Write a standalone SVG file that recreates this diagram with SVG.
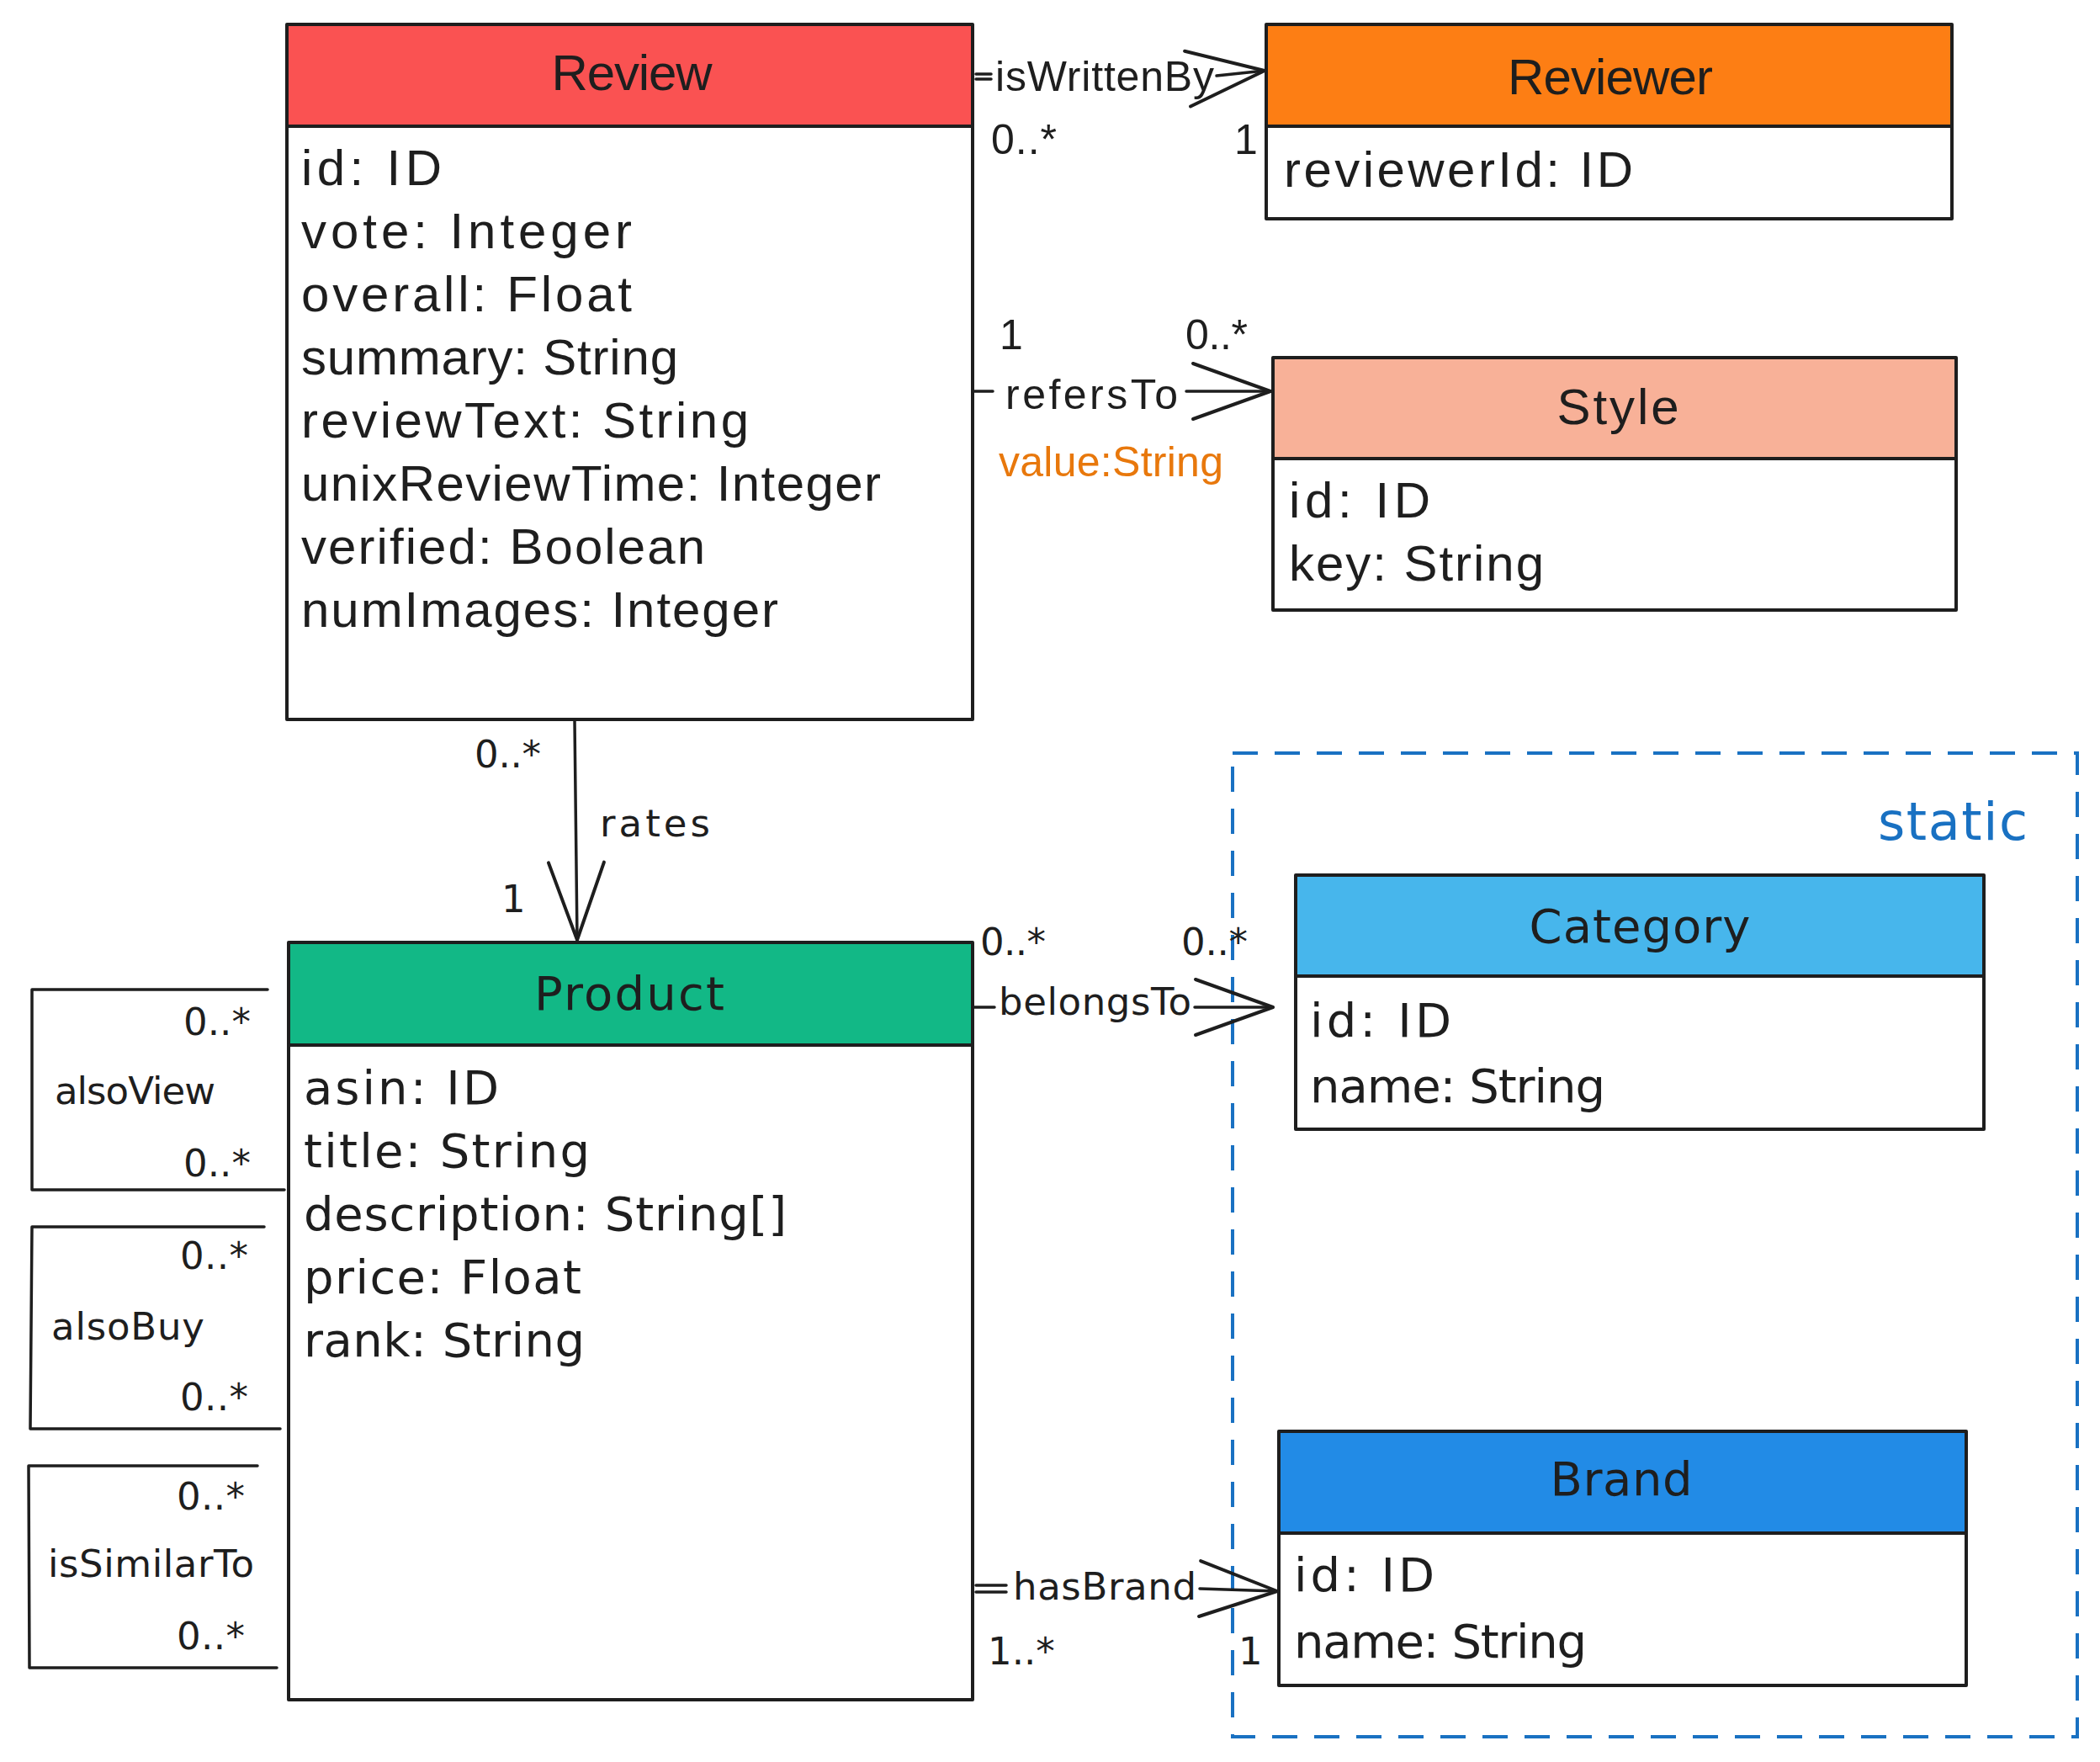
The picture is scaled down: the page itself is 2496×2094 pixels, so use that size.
<svg xmlns="http://www.w3.org/2000/svg" width="2496" height="2094" viewBox="0 0 2496 2094">
<style>
.hd{stroke:#1e1e1e;stroke-width:4;stroke-linejoin:round}
.bx{fill:#fff;stroke:#1e1e1e;stroke-width:4;stroke-linejoin:round}
.ln{fill:none;stroke:#1e1e1e;stroke-width:3.5;stroke-linecap:round;stroke-linejoin:round}
.n{font-family:"Liberation Sans",Arial,sans-serif;fill:#1e1e1e}
.w{font-family:"DejaVu Sans","Liberation Sans",sans-serif;fill:#1e1e1e}
.t60{font-size:60px}
.t56{font-size:56px}
.t50{font-size:50px}
.t45{font-size:45px}
.mid{text-anchor:middle}
</style>
<defs>
<marker id="open" markerUnits="userSpaceOnUse" markerWidth="120" markerHeight="90" viewBox="-105 -45 120 90" refX="0" refY="0" orient="auto" overflow="visible">
<path d="M -92,-33 L 0,0 L -92,33" fill="none" stroke="#1e1e1e" stroke-width="4" stroke-linecap="round" stroke-linejoin="round"/>
</marker>
</defs>
<rect width="2496" height="2094" fill="#fff"/>

<g id="static-frame">
<rect x="1465" y="895" width="1004" height="1169" fill="none" stroke="#1971c2" stroke-width="4" stroke-dasharray="30 20"/>
<text class="w" x="2232" y="998" font-size="62" style="fill:#1971c2" textLength="178">static</text>
</g>

<g id="connectors">
<!-- isWrittenBy -->
<path class="ln" d="M1160,88 L1178,88 M1160,94 L1178,94"/>
<path class="ln" d="M1446,90 L1503,84" marker-end="url(#open)"/>
<text class="n t50" x="1183" y="108" textLength="260">isWrittenBy</text>
<text class="n t50" x="1178" y="183" textLength="78">0..*</text>
<text class="n t50" x="1467" y="183">1</text>
<!-- refersTo -->
<path class="ln" d="M1158,465 L1180,465"/>
<path class="ln" d="M1410,465 L1510,465" marker-end="url(#open)"/>
<text class="n t50" x="1195" y="486" textLength="205">refersTo</text>
<text class="n t50" x="1188" y="415">1</text>
<text class="n t50" x="1409" y="415" textLength="74">0..*</text>
<text class="n t50" x="1187" y="566" textLength="267" style="fill:#e8780c">value:String</text>
<!-- rates -->
<path class="ln" d="M683,857 L686,1117" marker-end="url(#open)"/>
<text class="w t45" x="564" y="912" textLength="79">0..*</text>
<text class="w t45" x="713" y="994" textLength="131">rates</text>
<text class="w t45" x="596" y="1084">1</text>
<!-- belongsTo -->
<path class="ln" d="M1158,1197 L1182,1197"/>
<path class="ln" d="M1420,1197 L1513,1197" marker-end="url(#open)"/>
<text class="w t45" x="1187" y="1206" textLength="229">belongsTo</text>
<text class="w t45" x="1165" y="1135" textLength="78">0..*</text>
<text class="w t45" x="1404" y="1135" textLength="79">0..*</text>
<!-- hasBrand -->
<path class="ln" d="M1160,1884 L1196,1884 M1160,1892 L1196,1892"/>
<path class="ln" d="M1426,1888 L1518,1891" marker-end="url(#open)"/>
<text class="w t45" x="1204" y="1901" textLength="218">hasBrand</text>
<text class="w t45" x="1174" y="1978">1..*</text>
<text class="w t45" x="1472" y="1978">1</text>
<!-- alsoView self-loop -->
<path class="ln" d="M318,1176 L38,1176 L38,1414 L338,1414"/>
<text class="w t45" x="218" y="1230" textLength="80">0..*</text>
<text class="w t45" x="65" y="1312" textLength="191">alsoView</text>
<text class="w t45" x="218" y="1398" textLength="80">0..*</text>
<!-- alsoBuy self-loop -->
<path class="ln" d="M314,1458 L38,1458 L36,1698 L333,1698"/>
<text class="w t45" x="214" y="1508" textLength="81">0..*</text>
<text class="w t45" x="61" y="1592" textLength="182">alsoBuy</text>
<text class="w t45" x="214" y="1676" textLength="81">0..*</text>
<!-- isSimilarTo self-loop -->
<path class="ln" d="M306,1742 L34,1742 L35,1982 L329,1982"/>
<text class="w t45" x="210" y="1794" textLength="81">0..*</text>
<text class="w t45" x="57" y="1874" textLength="245">isSimilarTo</text>
<text class="w t45" x="210" y="1960" textLength="81">0..*</text>
</g>

<g id="review">
<rect class="hd" x="341" y="29" width="815" height="121" fill="#fa5252"/>
<rect class="bx" x="341" y="150" width="815" height="705"/>
<text class="n t60 mid" x="751" y="107" textLength="191">Review</text>
<text class="n t60" x="358" y="220" textLength="167">id: ID</text>
<text class="n t60" x="358" y="295" textLength="393">vote: Integer</text>
<text class="n t60" x="358" y="370" textLength="393">overall: Float</text>
<text class="n t60" x="358" y="445" textLength="448">summary: String</text>
<text class="n t60" x="358" y="520" textLength="532">reviewText: String</text>
<text class="n t60" x="358" y="595" textLength="689">unixReviewTime: Integer</text>
<text class="n t60" x="358" y="670" textLength="480">verified: Boolean</text>
<text class="n t60" x="358" y="745" textLength="567">numImages: Integer</text>
</g>

<g id="reviewer">
<rect class="hd" x="1505" y="29" width="815" height="121" fill="#fd7e14"/>
<rect class="bx" x="1505" y="150" width="815" height="110"/>
<text class="n t60 mid" x="1914" y="112" textLength="244">Reviewer</text>
<text class="n t60" x="1526" y="222" textLength="415">reviewerId: ID</text>
</g>

<g id="style">
<rect class="hd" x="1513" y="425" width="812" height="120" fill="#f8b198"/>
<rect class="bx" x="1513" y="545" width="812" height="180"/>
<text class="n t60 mid" x="1923" y="504" textLength="145">Style</text>
<text class="n t60" x="1532" y="615" textLength="168">id: ID</text>
<text class="n t60" x="1532" y="690" textLength="303">key: String</text>
</g>

<g id="product">
<rect class="hd" x="343" y="1120" width="813" height="122" fill="#12b886"/>
<rect class="bx" x="343" y="1242" width="813" height="778"/>
<text class="w t56 mid" x="748" y="1200" textLength="226">Product</text>
<text class="w t56" x="361" y="1312" textLength="232">asin: ID</text>
<text class="w t56" x="361" y="1387" textLength="340">title: String</text>
<text class="w t56" x="361" y="1462" textLength="574">description: String[]</text>
<text class="w t56" x="361" y="1537" textLength="330">price: Float</text>
<text class="w t56" x="361" y="1612" textLength="334">rank: String</text>
</g>

<g id="category">
<rect class="hd" x="1540" y="1040" width="818" height="120" fill="#47b6ec"/>
<rect class="bx" x="1540" y="1160" width="818" height="182"/>
<text class="w t56 mid" x="1949" y="1120" textLength="263">Category</text>
<text class="w t56" x="1557" y="1232" textLength="168">id: ID</text>
<text class="w t56" x="1557" y="1310" textLength="351">name: String</text>
</g>

<g id="brand">
<rect class="hd" x="1520" y="1701" width="817" height="121" fill="#228be6"/>
<rect class="bx" x="1520" y="1822" width="817" height="181"/>
<text class="w t56 mid" x="1927" y="1777" textLength="169">Brand</text>
<text class="w t56" x="1538" y="1891" textLength="167">id: ID</text>
<text class="w t56" x="1538" y="1970" textLength="348">name: String</text>
</g>
</svg>
